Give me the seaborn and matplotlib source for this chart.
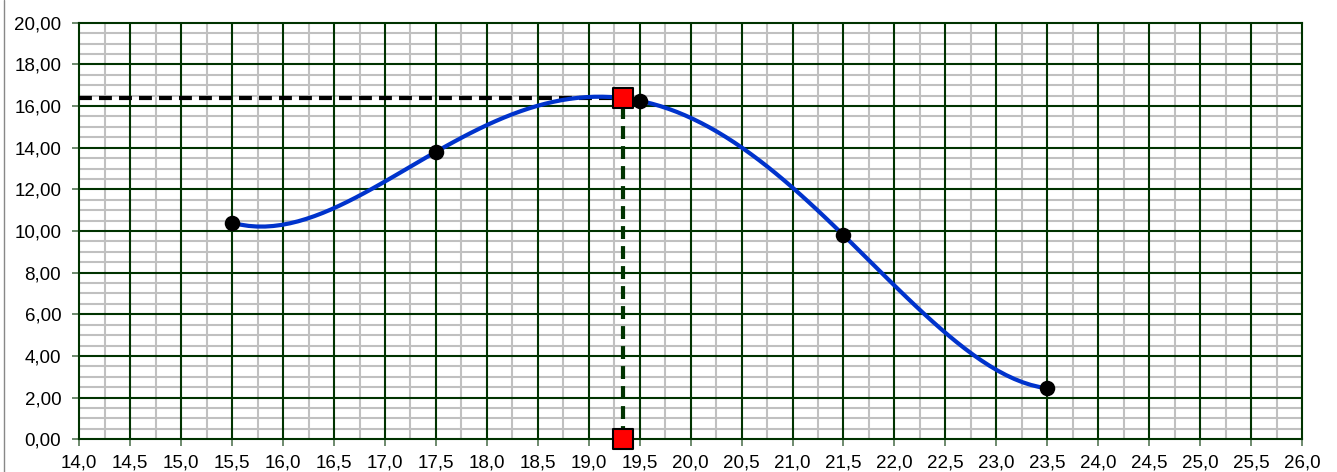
import matplotlib
matplotlib.use("Agg")
import matplotlib.pyplot as plt
import numpy as np
import seaborn as sns
from matplotlib.lines import Line2D
from matplotlib.ticker import MultipleLocator, FuncFormatter

# measured points (black markers), curve is a 4th order trend through them
x_pts = [15.5, 17.5, 19.5, 21.5, 23.5]
y_pts = [10.40, 13.80, 16.25, 9.80, 2.45]

# read-off point (red squares + guide lines)
mark_x = 19.34
mark_y = 16.40

x_lim = [14.0, 26.0]
y_lim = [0.0, 20.0]

GREEN = "#003300"
GRAY = "#c0c0c0"
BLUE = "#0033cc"

sns.set_style("white")
plt.rcParams["font.family"] = ["Liberation Sans", "DejaVu Sans"]

fig = plt.figure(figsize=(13.37, 4.72), dpi=100)
ax = fig.add_axes([79.3 / 1337, 1 - 439.3 / 472, (1302 - 79.3) / 1337, (439.3 - 22.7) / 472])

# trend curve + markers
sns.regplot(x=x_pts, y=y_pts, order=4, ci=None, truncate=True, ax=ax,
            scatter_kws={"s": 125, "color": "black", "alpha": 1, "zorder": 6, "linewidths": 0},
            line_kws={"color": BLUE, "lw": 3, "zorder": 5})

# guide lines
ax.plot([x_lim[0], mark_x], [mark_y, mark_y], color="black", lw=3,
        linestyle=(0, (3.1, 1.7)), zorder=4)
ax.plot([mark_x, mark_x], [0, mark_y], color=GREEN, lw=3,
        linestyle=(0, (3.1, 1.7)), zorder=4)

sns.scatterplot(x=[mark_x, mark_x], y=[mark_y, 0], marker="s", s=200, color="red",
                edgecolor="black", linewidth=1.5, zorder=8, clip_on=False, ax=ax)

ax.set_xlim(x_lim)
ax.set_ylim(y_lim)
ax.xaxis.set_major_locator(MultipleLocator(0.5))
ax.yaxis.set_major_locator(MultipleLocator(2))
ax.xaxis.set_major_formatter(FuncFormatter(lambda v, p: f"{v:.1f}".replace(".", ",")))
ax.yaxis.set_major_formatter(FuncFormatter(lambda v, p: f"{v:.2f}".replace(".", ",")))

# grid drawn by hand so gray minor lines stay under all green major lines
ax.grid(False)
ax.vlines(np.arange(14.25, 26, 0.5), 0, 20, color=GRAY, lw=1.5, zorder=0.5)
ax.hlines([v for v in np.arange(0.5, 20, 0.5) if v % 2], 14, 26, color=GRAY, lw=1.5, zorder=0.5)
ax.vlines(np.arange(14.5, 26, 0.5), 0, 20, color=GREEN, lw=1.5, zorder=1)
ax.hlines(np.arange(2, 20, 2), 14, 26, color=GREEN, lw=1.5, zorder=1)

ax.tick_params(which="major", direction="out", length=5, width=1.2, color="#557755",
               labelsize=13.5, labelcolor="black", bottom=True, left=True)
ax.tick_params(axis="y", pad=8)
ax.tick_params(axis="x", pad=6)
for s in ax.spines.values():
    s.set_color(GREEN)
    s.set_linewidth(1.5)
ax.set_xlabel("")
ax.set_ylabel("")

# chart area border on the left
fig.add_artist(Line2D([3.5 / 1337, 3.5 / 1337], [0, 1], transform=fig.transFigure,
                      color="#888888", lw=1))

fig.savefig("out.png", dpi=100)
